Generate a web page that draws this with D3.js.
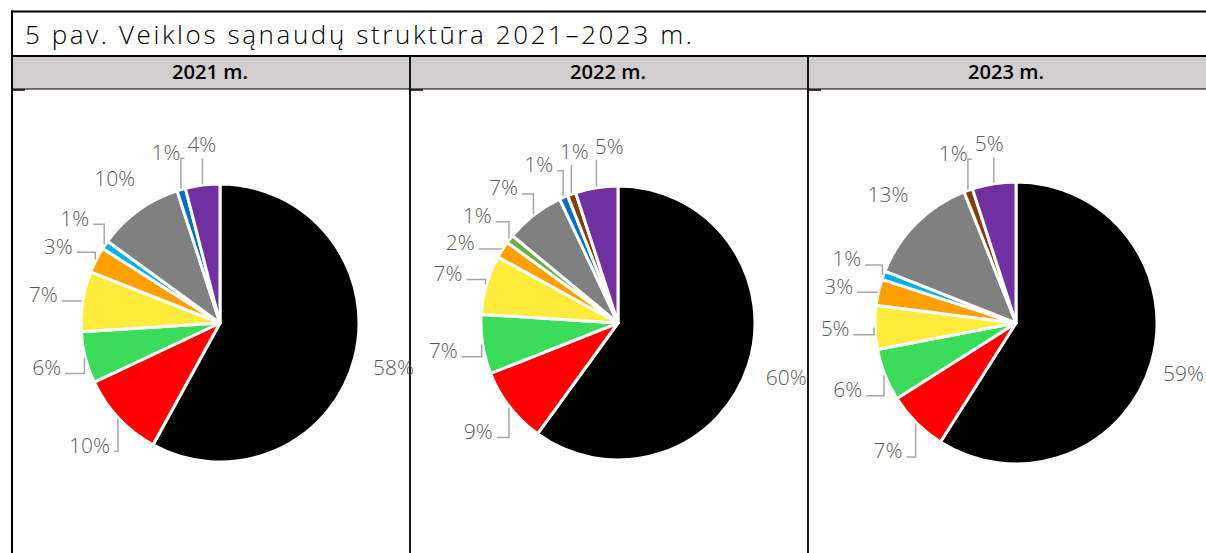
<!DOCTYPE html>
<html>
<head>
<meta charset="utf-8">
<script src="https://cdn.jsdelivr.net/npm/d3@7"></script>
<style>
  body { margin: 0; background: #fff; }
  svg { display: block; font-family: 'Open Sans', sans-serif; }
</style>
</head>
<body>
<div id="chart"></div>
<script>
// Chart data
const title = '5 pav. Veiklos sąnaudų struktūra 2021–2023 m.';
const years = ['2021 m.', '2022 m.', '2023 m.'];
const categories = ['Kat. 1', 'Kat. 2', 'Kat. 3', 'Kat. 4', 'Kat. 5', 'Kat. 6',
                    'Kat. 7', 'Kat. 8', 'Kat. 9', 'Kat. 10', 'Kat. 11'];
const values2021 = [58, 10, 6, 7, 3, 1, 0, 10, 1, 0, 4];
const values2022 = [60, 9, 7, 7, 2, 0, 1, 7, 1, 1, 5];
const values2023 = [59, 7, 6, 5, 3, 1, 0, 13, 0, 1, 5];
const seriesValues = [values2021, values2022, values2023];

const palette = ['#000000', '#ff0000', '#3adc5a', '#ffeb3b', '#ffa000', '#00b0f0',
                 '#70ad47', '#808080', '#0070c0', '#843c0c', '#7030a0'];

const width = 1206, height = 553;
const svg = d3.select('#chart').append('svg')
    .attr('width', width)
    .attr('height', height);

const color = d3.scaleOrdinal().domain(categories).range(palette);
const col = d3.scaleBand().domain(years).range([11, 1205]);

// Title
svg.append('text')
    .attr('x', 25)
    .attr('y', 44)
    .style('font-size', '26px')
    .style('font-weight', 300)
    .style('fill', '#000')
    .attr('textLength', 667)
    .attr('lengthAdjust', 'spacing')
    .text(title);

// Header band
svg.append('rect')
    .attr('x', 11).attr('y', 56)
    .attr('width', width - 11).attr('height', 33)
    .attr('fill', '#d0cece');

// Table lines
const lines = svg.append('g').attr('stroke', '#000');
lines.append('line').attr('x1', 11).attr('x2', width).attr('y1', 11.5).attr('y2', 11.5).attr('stroke-width', 2);
lines.append('line').attr('x1', 11).attr('x2', width).attr('y1', 56).attr('y2', 56).attr('stroke-width', 2);
lines.append('line').attr('x1', 11).attr('x2', width).attr('y1', 89).attr('y2', 89).attr('stroke-width', 1);
lines.append('line').attr('x1', 12).attr('x2', 12).attr('y1', 10.5).attr('y2', height).attr('stroke-width', 2);
years.slice(1).forEach(y => {
    lines.append('line')
        .attr('x1', col(y) + 1).attr('x2', col(y) + 1)
        .attr('y1', 56).attr('y2', height)
        .attr('stroke-width', 1.8);
});
years.forEach(y => {
    lines.append('line')
        .attr('x1', col(y)).attr('x2', col(y) + 14)
        .attr('y1', 90).attr('y2', 90)
        .attr('stroke-width', 1.5);
});

// Header labels
svg.selectAll('.year-label')
    .data(years)
    .enter()
    .append('text')
    .attr('class', 'year-label')
    .attr('x', d => col(d) + col.bandwidth() / 2)
    .attr('y', 79)
    .attr('text-anchor', 'middle')
    .style('font-size', '20px')
    .style('font-weight', 600)
    .style('fill', '#000')
    .attr('textLength', 76)
    .attr('lengthAdjust', 'spacingAndGlyphs')
    .text(d => d);

// Pies
const radii = [139, 137, 141];
const fontSize = 21;

years.forEach((year, yi) => {
    const radius = radii[yi];
    const cx = col(year) + 209, cy = 323;
    const pie = d3.pie().sort(null).value(d => d.value);
    const arc = d3.arc().innerRadius(0).outerRadius(radius);
    const data = categories.map((c, i) => ({ category: c, value: seriesValues[yi][i] }));
    const arcs = pie(data);

    const g = svg.append('g')
        .attr('transform', `translate(${cx}, ${cy})`);

    g.selectAll('path')
        .data(arcs.filter(d => d.data.value > 0))
        .enter()
        .append('path')
        .attr('d', arc)
        .attr('fill', d => color(d.data.category))
        .attr('stroke', '#fff')
        .attr('stroke-width', 3)
        .attr('stroke-linejoin', 'round');

    // Label layout: put labels outside, then spread overlapping ones by angle
    const R = radius + 40;
    const labels = arcs.filter(d => d.data.value > 0).map(d => ({
        arc: d,
        mid: (d.startAngle + d.endAngle) / 2,
        ang: (d.startAngle + d.endAngle) / 2,
        text: d.data.value + '%'
    }));

    const measure = g.append('text').style('font-size', fontSize + 'px').style('font-weight', 300);
    labels.forEach(l => {
        measure.text(l.text);
        l.w = measure.node().getComputedTextLength();
    });
    measure.remove();

    const pos = l => {
        let x = R * Math.sin(l.ang);
        const y = -R * Math.cos(l.ang);
        // keep the label inside the page
        x = Math.min(x, width - 2 - cx - l.w / 2);
        return { x, y };
    };
    const h = fontSize + 6;
    for (let it = 0; it < 600; it++) {
        let moved = false;
        for (let i = 0; i < labels.length - 1; i++) {
            const a = labels[i], b = labels[i + 1];
            const pa = pos(a), pb = pos(b);
            const ox = (a.w + b.w) / 2 + 6 - Math.abs(pa.x - pb.x);
            const oy = h - Math.abs(pa.y - pb.y);
            if (ox > 0 && oy > 0) {
                a.ang -= 0.004;
                b.ang += 0.004;
                moved = true;
            }
        }
        if (!moved) break;
    }

    // Leader lines
    labels.forEach(l => {
        const v = l.arc.data.value;
        const needLeader = v < 10 || (l.mid > Math.PI && l.mid < 1.5 * Math.PI);
        if (!needLeader) return;
        const p = pos(l);
        const e = { x: (radius + 1) * Math.sin(l.mid), y: -(radius + 1) * Math.cos(l.mid) };
        let pts;
        if (Math.abs(e.x - p.x) < l.w / 2) {
            pts = [[e.x, e.y], [e.x, p.y + h / 2]];
        } else {
            const ly = p.y + 6;
            const lx = e.x > p.x ? p.x + l.w / 2 + 4 : p.x - l.w / 2 - 4;
            pts = [[e.x, e.y], [e.x, ly], [lx, ly]];
        }
        g.append('path')
            .attr('d', d3.line()(pts))
            .attr('fill', 'none')
            .attr('stroke', '#a6a6a6')
            .attr('stroke-width', 1.5);
    });

    g.selectAll('.pct')
        .data(labels)
        .enter()
        .append('text')
        .attr('class', 'pct')
        .attr('x', d => pos(d).x)
        .attr('y', d => pos(d).y)
        .attr('dy', '0.35em')
        .attr('text-anchor', 'middle')
        .style('font-size', fontSize + 'px')
        .style('font-weight', 300)
        .style('fill', '#595959')
        .text(d => d.text);
});
</script>
</body>
</html>
